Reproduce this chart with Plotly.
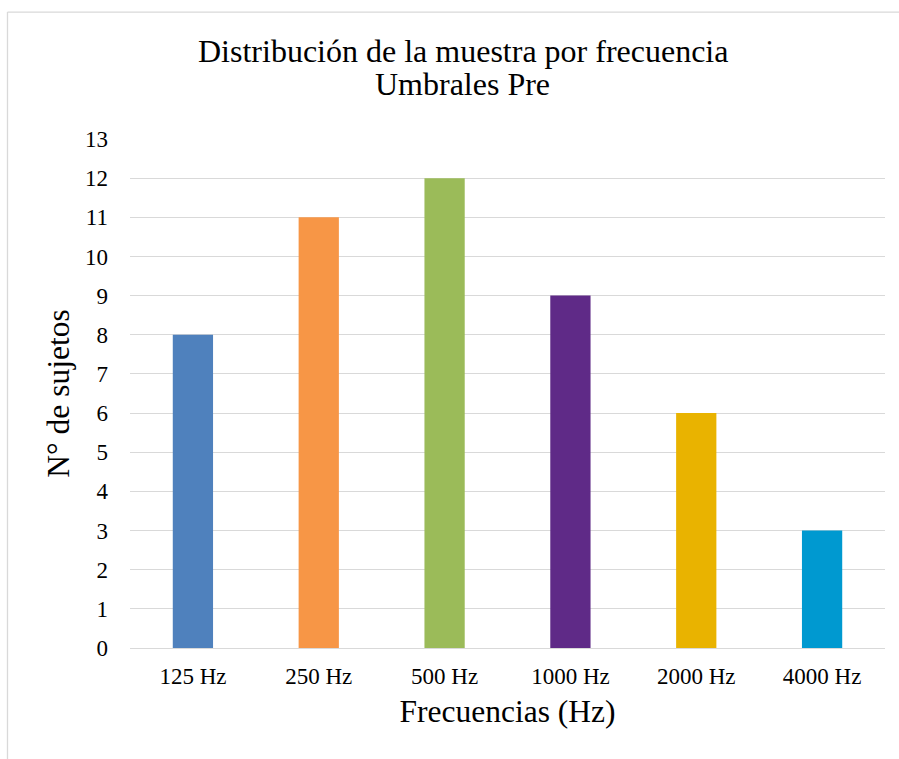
import plotly.graph_objects as go

categories = ["125 Hz", "250 Hz", "500 Hz", "1000 Hz", "2000 Hz", "4000 Hz"]
values = [8, 11, 12, 9, 6, 3]
bar_colors = ["#4f81bd", "#f79646", "#9bbb59", "#5f2a87", "#e9b300", "#0099d0"]
y_ticks = list(range(0, 14))

title_line1 = "Distribución de la muestra por frecuencia"
title_line2 = "Umbrales Pre"
x_title = "Frecuencias (Hz)"
y_title = "N° de sujetos"

FONT = "Liberation Serif, Times New Roman, serif"

fig = go.Figure(
    go.Bar(x=categories, y=values, marker=dict(color=bar_colors, line=dict(width=0)))
)

W, H = 899, 759
ml, mr, mt, mb = 130, 14, 138.5, 111
pw = W - ml - mr
ph = H - mt - mb

def px_to_paper_x(px):
    return (px - ml) / pw

def px_to_paper_y(py):
    return (H - mb - py) / ph

fig.update_layout(
    width=W,
    height=H,
    margin=dict(l=ml, r=mr, t=mt, b=mb, pad=0),
    paper_bgcolor="white",
    plot_bgcolor="white",
    bargap=0.68,
    showlegend=False,
    font=dict(family=FONT, color="#000000"),
    xaxis=dict(
        type="category",
        showgrid=False,
        showline=False,
        zeroline=False,
        ticks="",
        tickfont=dict(family=FONT, size=23, color="#000000"),
        ticklabelstandoff=12,
        title=dict(text=x_title, font=dict(family=FONT, size=31.5, color="#000000"), standoff=11),
    ),
    yaxis=dict(
        range=[0, 13],
        tickvals=y_ticks,
        showgrid=True,
        gridcolor="#d9d9d9",
        gridwidth=1.3,
        zeroline=True,
        zerolinecolor="#d9d9d9",
        zerolinewidth=1.3,
        showline=False,
        ticks="",
        tickfont=dict(family=FONT, size=23, color="#000000"),
        ticklabelstandoff=21,
        title=dict(text=y_title, font=dict(family=FONT, size=31.5, color="#000000"), standoff=5),
    ),
    annotations=[
        dict(text=title_line1, xref="paper", yref="paper",
             x=px_to_paper_x(462.5), y=px_to_paper_y(50), xanchor="center", yanchor="middle",
             showarrow=False, font=dict(family=FONT, size=32, color="#000000")),
        dict(text=title_line2, xref="paper", yref="paper",
             x=px_to_paper_x(462.5), y=px_to_paper_y(83), xanchor="center", yanchor="middle",
             showarrow=False, font=dict(family=FONT, size=32, color="#000000")),
    ],
    shapes=[
        dict(type="line", xref="paper", yref="paper",
             x0=px_to_paper_x(7.5), x1=px_to_paper_x(7.5),
             y0=px_to_paper_y(11.5), y1=px_to_paper_y(H + 5),
             line=dict(color="#d9d9d9", width=1.3)),
        dict(type="line", xref="paper", yref="paper",
             x0=px_to_paper_x(7.5), x1=px_to_paper_x(W + 5),
             y0=px_to_paper_y(11.5), y1=px_to_paper_y(11.5),
             line=dict(color="#d9d9d9", width=1.3)),
    ],
)

fig.write_html("out.html")
